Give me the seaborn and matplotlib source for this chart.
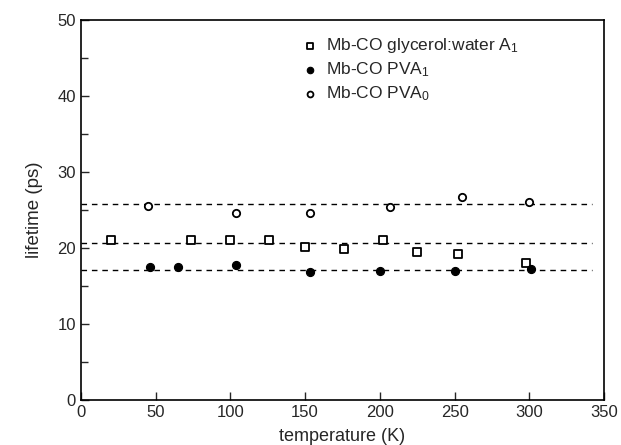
import matplotlib
matplotlib.use("Agg")
import matplotlib.pyplot as plt
import seaborn as sns
import pandas as pd
from matplotlib.ticker import MultipleLocator

# --- data ---
gly_T = [20, 74, 100, 126, 150, 176, 202, 225, 252, 298]
gly_tau = [21.1, 21.1, 21.1, 21.1, 20.1, 19.9, 21.1, 19.5, 19.2, 18.0]
pva1_T = [46, 65, 104, 153, 200, 250, 301]
pva1_tau = [17.5, 17.5, 17.8, 16.8, 17.0, 17.0, 17.2]
pva0_T = [45, 104, 153, 207, 255, 300]
pva0_tau = [25.5, 24.6, 24.6, 25.4, 26.7, 26.1]
fit_levels = [25.8, 20.6, 17.1]
fit_span = [0, 342]
labels = ["Mb-CO glycerol:water A$_1$", "Mb-CO PVA$_1$", "Mb-CO PVA$_0$"]

sns.set_style("ticks")
plt.rcParams["font.family"] = ["Liberation Sans", "DejaVu Sans"]
plt.rcParams["mathtext.default"] = "regular"

fig = plt.figure(figsize=(6.21, 4.45), dpi=100)
ax = fig.add_axes([0.130, 0.101, 0.843, 0.854])

for lvl in fit_levels:
    ax.hlines(lvl, fit_span[0], fit_span[1], colors="black", linestyles=(0, (4, 3.5)), linewidth=1.0, zorder=1)

df_g = pd.DataFrame({"T": gly_T, "tau": gly_tau})
df_1 = pd.DataFrame({"T": pva1_T, "tau": pva1_tau})
df_0 = pd.DataFrame({"T": pva0_T, "tau": pva0_tau})

sns.scatterplot(data=df_g, x="T", y="tau", marker="s", s=30, facecolor="white",
                edgecolor="black", linewidth=1.3, label=labels[0], ax=ax, zorder=3)
sns.scatterplot(data=df_1, x="T", y="tau", marker="o", s=34, color="black",
                edgecolor="black", linewidth=0.8, label=labels[1], ax=ax, zorder=3)
sns.scatterplot(data=df_0, x="T", y="tau", marker="o", s=28, facecolor="white",
                edgecolor="black", linewidth=1.3, label=labels[2], ax=ax, zorder=3)

ax.set_xlim(0, 350)
ax.set_ylim(0, 50)
ax.xaxis.set_major_locator(MultipleLocator(50))
ax.yaxis.set_major_locator(MultipleLocator(10))
ax.yaxis.set_minor_locator(MultipleLocator(5))
ax.tick_params(axis="both", which="both", direction="in", top=False, right=False)
ax.tick_params(axis="both", which="major", length=6, width=1, labelsize=12)
ax.tick_params(axis="y", which="minor", length=5, width=1)
ax.set_xlabel("temperature (K)", fontsize=13, labelpad=6)
ax.set_ylabel("lifetime (ps)", fontsize=13.5, labelpad=10)
for sp in ax.spines.values():
    sp.set_linewidth(1.2)
    sp.set_color("black")

leg = ax.legend(loc="upper left", bbox_to_anchor=(0.405, 0.975), frameon=False,
                fontsize=12.5, handletextpad=0.3, labelspacing=0.3, borderaxespad=0,
                handlelength=1.2, markerscale=0.8)

fig.savefig("out.png", dpi=100)
